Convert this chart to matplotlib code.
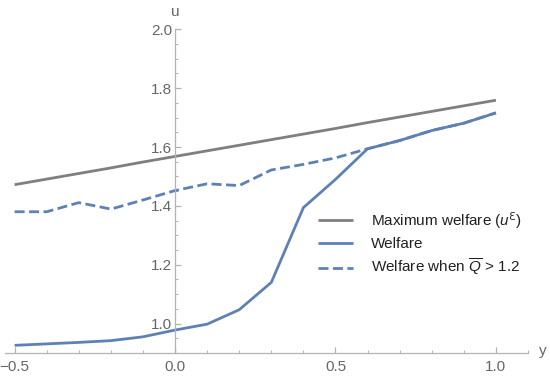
import numpy as np
import matplotlib
matplotlib.use("Agg")
import matplotlib.pyplot as plt
from matplotlib.ticker import MultipleLocator

plt.rcParams['font.family'] = ['Liberation Sans', 'DejaVu Sans']
plt.rcParams['mathtext.fontset'] = 'custom'
plt.rcParams['mathtext.rm'] = 'DejaVu Sans'
plt.rcParams['mathtext.it'] = 'Liberation Sans:italic'

# data
y_vals = [-0.5, -0.4, -0.3, -0.2, -0.1, 0.0, 0.1, 0.2, 0.3, 0.4, 0.5, 0.6, 0.7, 0.8, 0.9, 1.0]
max_welfare = [1.472, 1.491, 1.510, 1.529, 1.549, 1.568, 1.587, 1.606, 1.625, 1.644, 1.663,
               1.683, 1.702, 1.721, 1.740, 1.759]
welfare = [0.926, 0.931, 0.936, 0.942, 0.955, 0.978, 0.998, 1.047, 1.140, 1.394, 1.490,
           1.594, 1.622, 1.656, 1.681, 1.716]
welfare_q = [1.380, 1.380, 1.411, 1.389, 1.420, 1.452, 1.475, 1.469, 1.522, 1.541, 1.563,
             1.594, 1.622, 1.656, 1.681, 1.716]

gray = '#7f7f7f'
blue = '#5e81b5'
axcol = '#b3b3b3'
txtcol = '#666666'

fig = plt.figure(figsize=(5.5, 3.77), dpi=100)
W, H = 550, 377
ax = fig.add_axes([5 / W, (H - 353) / H, (528 - 5) / W, (353 - 29.3) / H])
ax.set_xlim(-0.53, 1.10)
ax.set_ylim(0.9, 2.0)

ax.plot(y_vals, max_welfare, color=gray, lw=2.0, label='Maximum welfare ($u^{\\mathrm{\u0190}}$)',
        solid_capstyle='butt')
ax.plot(y_vals, welfare, color=blue, lw=2.0, label='Welfare', solid_capstyle='butt')
ax.plot(y_vals, welfare_q, color=blue, lw=2.0, linestyle=(0, (3.6, 1.6)),
        label=r'Welfare when $\overline{Q}$ > 1.2')

for s in ['top', 'right']:
    ax.spines[s].set_visible(False)
ax.spines['left'].set_position(('data', 0))
ax.spines['left'].set_color(axcol)
ax.spines['bottom'].set_color(axcol)
ax.spines['left'].set_linewidth(0.9)
ax.spines['bottom'].set_linewidth(0.9)

ax.xaxis.set_major_locator(MultipleLocator(0.5))
ax.xaxis.set_minor_locator(MultipleLocator(0.1))
ax.yaxis.set_major_locator(MultipleLocator(0.2))
ax.yaxis.set_minor_locator(MultipleLocator(0.05))
ax.set_yticks([1.0, 1.2, 1.4, 1.6, 1.8, 2.0])
ax.set_xticks([-0.5, 0.0, 0.5, 1.0])
ax.set_xticklabels(['\u22120.5', '0.0', '0.5', '1.0'])
ax.set_yticklabels(['1.0', '1.2', '1.4', '1.6', '1.8', '2.0'])

ax.tick_params(which='both', direction='in', color=axcol, labelcolor=txtcol, labelsize=11)
ax.tick_params(axis='x', which='major', length=4, width=0.9, pad=5)
ax.tick_params(axis='x', which='minor', length=2.5, width=0.7)
ax.tick_params(axis='y', which='major', length=4, width=0.9, pad=2)
ax.tick_params(axis='y', which='minor', length=2.5, width=0.7)

fig.text(175 / W, 1 - 12 / H, 'u', color=txtcol, fontsize=11, ha='center', va='center')
fig.text(543 / W, 1 - 351 / H, 'y', color=txtcol, fontsize=11, ha='center', va='center')

leg = ax.legend(loc='center left', bbox_to_anchor=(318 / W, 1 - 244 / H),
                bbox_transform=fig.transFigure, frameon=False, fontsize=11,
                handlelength=2.3, handletextpad=1.15, labelspacing=0.4,
                borderpad=0, borderaxespad=0)
for t in leg.get_texts():
    t.set_color('#222222')

fig.savefig('out.png', dpi=100)
